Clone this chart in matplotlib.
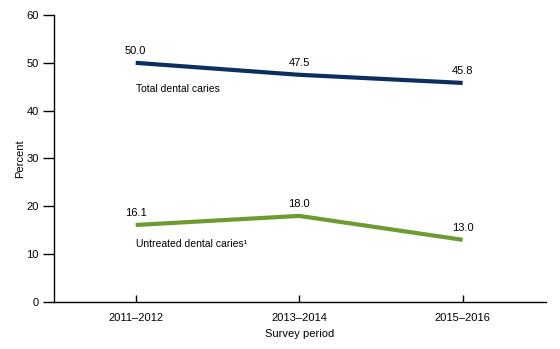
import matplotlib
matplotlib.use("Agg")
import matplotlib.pyplot as plt

periods = ["2011\u20132012", "2013\u20132014", "2015\u20132016"]
total = [50.0, 47.5, 45.8]
untreated = [16.1, 18.0, 13.0]
yticks = [0, 10, 20, 30, 40, 50, 60]

plt.rcParams['font.family'] = ['Liberation Sans', 'DejaVu Sans']

fig = plt.figure(figsize=(5.6, 3.49), dpi=100)
ax = fig.add_axes([0.0964, 0.1347, 0.8786, 0.8223])

x = list(range(len(periods)))
navy = "#0b2f5e"
green = "#6d9b31"
ax.plot(x, total, color=navy, lw=3.0, solid_capstyle="butt")
ax.plot(x, untreated, color=green, lw=3.0, solid_capstyle="butt")

for xi, v in zip(x, total):
    ax.annotate(f"{v:.1f}", (xi, v), xytext=(0, 5), textcoords="offset points",
                ha="center", va="bottom", fontsize=8)
for xi, v in zip(x, untreated):
    ax.annotate(f"{v:.1f}", (xi, v), xytext=(0, 5), textcoords="offset points",
                ha="center", va="bottom", fontsize=8)

ax.text(0, 44.5, "Total dental caries", ha="left", va="center", fontsize=7.5)
ax.text(0, 12.1, "Untreated dental caries\u00b9", ha="left", va="center", fontsize=7.5)

ax.set_xlim(-0.5, 2.51)
ax.set_ylim(0, 60)
ax.set_yticks(yticks)
ax.set_xticks(x)
ax.set_xticklabels(periods)
ax.tick_params(axis="y", direction="out", length=8, width=1, labelsize=8, pad=3)
ax.tick_params(axis="x", direction="in", length=5, width=1, labelsize=8, pad=8)
for s in ["top", "right"]:
    ax.spines[s].set_visible(False)
for s in ["left", "bottom"]:
    ax.spines[s].set_linewidth(1)
ax.set_ylabel("Percent", fontsize=8, labelpad=1)
ax.set_xlabel("Survey period", fontsize=8, labelpad=4)

fig.savefig("out.png", dpi=100)
